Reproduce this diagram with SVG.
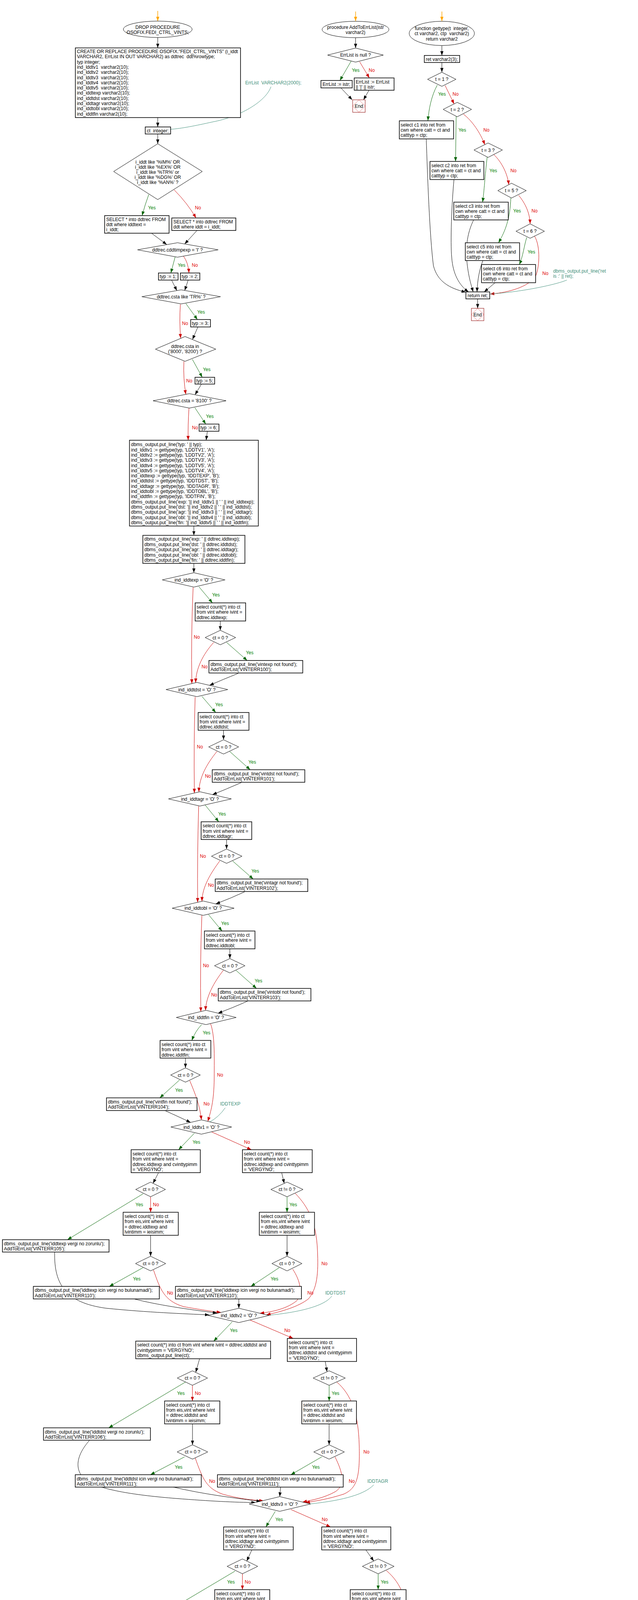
<svg xmlns="http://www.w3.org/2000/svg" width="1634" height="5422" viewBox="0 0 1634 5422">
<style>
.t{font-family:"Liberation Sans",Arial,sans-serif;font-size:12px;fill:#000}
.c{text-anchor:middle}
.ly{font-family:"Liberation Sans",Arial,sans-serif;font-size:12px;fill:#008000;text-anchor:middle}
.ln{font-family:"Liberation Sans",Arial,sans-serif;font-size:12px;fill:#e00000;text-anchor:middle}
.nt{font-family:"Liberation Sans",Arial,sans-serif;font-size:12px;fill:#3f8f7a}
.b{fill:#fff;stroke:#000;stroke-width:1.6}
.d{fill:#fff;stroke:#000;stroke-width:1}
.e{fill:none;stroke:#000;stroke-width:1;marker-end:url(#ak)}
.g{fill:none;stroke:#006400;stroke-width:1;marker-end:url(#ag)}
.r{fill:none;stroke:#cc0000;stroke-width:1;marker-end:url(#ar)}
.o{fill:none;stroke:#ffa500;stroke-width:1.5;marker-end:url(#ao)}
.nc{fill:none;stroke:#3f8f7a;stroke-width:1}
.er{fill:#fff;stroke:#a03030;stroke-width:1.2}
.ed{fill:none;stroke:#cc0000;stroke-width:0.8;stroke-dasharray:2,1}
</style>
<defs>
<marker id="ak" markerUnits="userSpaceOnUse" markerWidth="12" markerHeight="10" refX="11" refY="5" orient="auto"><path d="M0,1L11,5L0,9z" fill="#000"/></marker>
<marker id="ag" markerUnits="userSpaceOnUse" markerWidth="12" markerHeight="10" refX="11" refY="5" orient="auto"><path d="M0,1L11,5L0,9z" fill="#006400"/></marker>
<marker id="ar" markerUnits="userSpaceOnUse" markerWidth="12" markerHeight="10" refX="11" refY="5" orient="auto"><path d="M0,1L11,5L0,9z" fill="#cc0000"/></marker>
<marker id="ao" markerUnits="userSpaceOnUse" markerWidth="12" markerHeight="10" refX="11" refY="5" orient="auto"><path d="M0,1L11,5L0,9z" fill="#ffa500"/></marker>
</defs>
<rect width="1634" height="5422" fill="#fff"/>

<g id="connectors">
<path class="o" d="M404,28L404,54"/>
<path class="e" d="M404,96L404,122.6"/>
<path class="e" d="M404,301L404,325"/>
<path class="nc" d="M694,222C680,262 610,300 545,312C500,322 465,329 437,331"/>
<path class="e" d="M404,343L404,368"/>
<path class="g" d="M381,498Q371,525 364,552"/>
<path class="r" d="M446,486Q480,520 502,558"/>
<path class="e" d="M388,597L427,626"/>
<path class="e" d="M504.5,590L473,624.6"/>
<path class="g" d="M448.6,657.6L437.6,698.8"/>
<path class="r" d="M470,656Q482,672 484,698.8"/>
<path class="e" d="M439.4,717L453,744"/>
<path class="e" d="M482,717L473,743.6"/>
<path class="g" d="M476,777L505.6,818"/>
<path class="r" d="M462,779Q459,822 462.7,866"/>
<path class="e" d="M506.8,837L493,869"/>
<path class="g" d="M492.7,920L518,965.8"/>
<path class="r" d="M471,925Q469,970 476,1009.6"/>
<path class="e" d="M516,983.3L499.5,1010.6"/>
<path class="g" d="M499,1043.6L527,1085.6"/>
<path class="r" d="M484,1044.7Q481,1090 482,1127"/>
<path class="e" d="M531,1104L528,1127"/>
<path class="e" d="M496.5,1346.6L496.5,1370.5"/>
<path class="e" d="M496.5,1442.3L496.5,1466.2"/>
<text class="ly" x="389" y="536">Yes</text><text class="ln" x="507" y="536">No</text>
<text class="ly" x="465" y="682.6">Yes</text><text class="ln" x="499" y="682.6">No</text>
<text class="ly" x="515" y="802.8">Yes</text><text class="ln" x="474" y="831.6">No</text>
<text class="ly" x="529.5" y="949.5">Yes</text><text class="ln" x="484.7" y="978.7">No</text>
<text class="ly" x="537.4" y="1069.7">Yes</text><text class="ln" x="499.5" y="1099">No</text>

<path class="g" d="M509.4,1502L544.2,1543.4"/>
<path class="r" d="M494.6,1503.7Q489,1630 491.4,1750"/>
<path class="e" d="M564.2,1589.7L564.2,1613.6"/>
<path class="g" d="M580.3,1644.5L633,1690.8"/>
<path class="r" d="M547.4,1644.5C520,1675 502,1710 501,1748"/>
<path class="e" d="M610.5,1723.6Q570,1740 536.5,1754.4"/>
<text class="ly" x="553" y="1527.3">Yes</text><text class="ln" x="504" y="1635.4">No</text>
<text class="ly" x="639.5" y="1674.7">Yes</text><text class="ln" x="524" y="1710.6">No</text>
<path class="g" d="M517,1782.6L552.6,1824"/>
<path class="r" d="M499.8,1784Q496,1900 497.8,2030.2"/>
<path class="e" d="M572.5,1869.5L572.5,1893.8"/>
<path class="g" d="M588,1923.5L640.8,1970.5"/>
<path class="r" d="M555.8,1923.5C530,1955 510,1990 509.4,2027.5"/>
<path class="e" d="M618.3,2003.3Q580,2020 544.2,2034.3"/>
<text class="ly" x="561" y="1807.9">Yes</text><text class="ln" x="512" y="1915.9">No</text>
<text class="ly" x="646" y="1954.5">Yes</text><text class="ln" x="532.6" y="1990.7">No</text>
<path class="g" d="M525.5,2061L560.3,2103.7"/>
<path class="r" d="M508.8,2063.5Q505,2190 506.2,2310"/>
<path class="e" d="M580.3,2149.2L580.3,2173.5"/>
<path class="g" d="M595.7,2204L648.5,2250.3"/>
<path class="r" d="M562.9,2204C540,2235 518,2270 517.2,2307.4"/>
<path class="e" d="M626.6,2283Q590,2300 552.6,2314"/>
<text class="ly" x="568.7" y="2087.6">Yes</text><text class="ln" x="519.7" y="2195.6">No</text>
<text class="ly" x="653.7" y="2234">Yes</text><text class="ln" x="540.3" y="2270">No</text>
<path class="g" d="M534,2341.4L568.7,2383.4"/>
<path class="r" d="M517,2343.3Q512,2470 514.4,2589.7"/>
<path class="e" d="M588.7,2429L588.7,2454"/>
<path class="g" d="M604.4,2484L657,2530.4"/>
<path class="r" d="M572,2484C548,2515 528,2550 526.3,2586.7"/>
<path class="e" d="M634,2563Q596,2580 558.4,2593.9"/>
<text class="ly" x="576.4" y="2367.7">Yes</text><text class="ln" x="527.6" y="2475.8">No</text>
<text class="ly" x="662" y="2515">Yes</text><text class="ln" x="548.6" y="2550.6">No</text>
<path class="g" d="M516.4,2623Q500,2640 491.4,2663.5"/>
<path class="r" d="M539.4,2621C550,2650 549,2700 548.6,2760C548,2820 540,2845 532.2,2870.8"/>
<path class="e" d="M475,2708.7L475,2733.8"/>
<path class="g" d="M460,2764.6L409.3,2810.5"/>
<path class="r" d="M486,2766.6C500,2800 512,2830 515.8,2866.9"/>
<path class="e" d="M423.8,2843.7Q460,2860 488.2,2873.4"/>
<path class="nc" d="M576.8,2836Q560,2860 537.4,2872"/>
<text class="ly" x="529" y="2647.9">Yes</text><text class="ln" x="563.7" y="2756">No</text>
<text class="ly" x="458.6" y="2794.9">Yes</text><text class="ln" x="529" y="2830.4">No</text>
<path class="g" d="M498,2900.8L457.3,2943.3"/>
<path class="r" d="M542,2897.7L643.8,2943.3"/>
<path class="e" d="M406,3002L392,3029.3"/>
<path class="g" d="M366.6,3056L172.8,3173.6"/>
<path class="r" d="M385.7,3063.7L385.7,3103.4"/>
<path class="e" d="M385.7,3162.4L385.7,3216"/>
<path class="g" d="M366.6,3245L280,3293.2"/>
<path class="r" d="M393,3250.8C410,3300 420,3330 470,3345C510,3352 540,3357 566,3359.8"/>
<path class="e" d="M140,3205.3C138,3290 170,3335 271,3349C380,3360 470,3363 536,3366.2"/>
<path class="e" d="M343.6,3325.3C400,3340 480,3352 556,3361.3"/>
<path class="e" d="M721.4,3002L728,3029.5"/>
<path class="g" d="M735.2,3063.7L735.2,3103.4"/>
<path class="r" d="M756,3054.8C790,3090 810,3130 813,3200C816,3260 812,3300 790,3325C765,3345 720,3358 682,3366"/>
<path class="e" d="M735.2,3162.4L735.2,3216"/>
<path class="g" d="M715.4,3245L642.5,3293.2"/>
<path class="r" d="M749.6,3248.9C770,3280 775,3310 760,3330C735,3350 700,3358 665.5,3362"/>
<path class="e" d="M611.7,3325.3L611.7,3349.2"/>
<path class="nc" d="M849.5,3318.3C830,3345 760,3360 689,3367"/>
<text class="ly" x="503" y="2927.6">Yes</text><text class="ln" x="632.7" y="2927.6">No</text>
<text class="ly" x="356.8" y="3087.7">Yes</text><text class="ln" x="399.5" y="3087.7">No</text>
<text class="ly" x="350.2" y="3278">Yes</text><text class="ln" x="435.6" y="3313.8">No</text>
<text class="ly" x="751" y="3087.7">Yes</text><text class="ln" x="831" y="3238.6">No</text>
<text class="ly" x="703" y="3278">Yes</text><text class="ln" x="795" y="3313.8">No</text>
<path class="g" d="M594.6,3384L547.3,3433.3"/>
<path class="r" d="M640.6,3379.3L751,3426.4"/>
<path class="e" d="M511.2,3478.4L501.3,3513"/>
<path class="g" d="M475,3538L278.4,3655.3"/>
<path class="r" d="M492.8,3546.4L492.8,3586.5"/>
<path class="e" d="M493,3645.2L493,3698.7"/>
<path class="g" d="M472.6,3729.6L385.3,3775.3"/>
<path class="r" d="M499,3729.6C520,3790 530,3810 570,3825C610,3836 640,3840 675,3842"/>
<path class="e" d="M229.5,3687C200,3720 185,3760 220,3790C260,3815 350,3828 450,3836C540,3843 600,3846 655,3846.5"/>
<path class="e" d="M444,3807C520,3825 600,3835 668,3843.5"/>
<path class="e" d="M833,3485.4L837.6,3511.7"/>
<path class="g" d="M843,3546.4L843,3586.5"/>
<path class="r" d="M862.6,3538C900,3570 918,3620 920,3700C922,3780 915,3810 880,3825C840,3838 810,3842 782.7,3847"/>
<path class="e" d="M842.9,3645.2L842.9,3698.7"/>
<path class="g" d="M824,3729.6L745,3775.3"/>
<path class="r" d="M858,3729.6C878,3770 885,3800 860,3818C830,3835 800,3840 775,3845.3"/>
<path class="e" d="M718.7,3807L716.4,3831.4"/>
<path class="nc" d="M957.2,3801.2C930,3830 860,3843 795,3850"/>
<text class="ly" x="598.5" y="3410.3">Yes</text><text class="ln" x="735.8" y="3410.3">No</text>
<text class="ly" x="463.2" y="3571.2">Yes</text><text class="ln" x="506.6" y="3571.2">No</text>
<text class="ly" x="457.6" y="3759.6">Yes</text><text class="ln" x="543.3" y="3795.6">No</text>
<text class="ly" x="859.3" y="3571.2">Yes</text><text class="ln" x="938.4" y="3721.2">No</text>
<text class="ly" x="809" y="3759.6">Yes</text><text class="ln" x="900.8" y="3795.6">No</text>
<path class="g" d="M705,3869L681,3908.9"/>
<path class="r" d="M745,3864.3L846.6,3908.9"/>
<path class="e" d="M645,3967.7L632,3996.3"/>
<path class="g" d="M602,4022L406.4,4138"/>
<path class="r" d="M620.9,4028.9L620.9,4069.5"/>
<path class="e" d="M620.9,4127.2L620.9,4180.6"/>
<path class="g" d="M602,4210.8L514,4258"/>
<path class="r" d="M628.4,4214.7C645,4260 660,4290 700,4310C730,4322 760,4328 788.7,4333"/>
<path class="e" d="M357.5,4170.2C330,4200 318,4235 332,4262C355,4300 430,4315 530,4325C630,4335 700,4341 752,4344.4"/>
<path class="e" d="M564.4,4290.2C650,4310 720,4322 782.7,4334.8"/>
<path class="e" d="M937,3967.7L957.2,3996.3"/>
<path class="g" d="M968.5,4028.9L968.5,4069.5"/>
<path class="r" d="M989.6,4020.7C1030,4055 1045,4100 1048,4180C1050,4260 1045,4290 1010,4310C975,4325 950,4334 925.6,4341"/>
<path class="e" d="M968.5,4127.2L968.5,4180.6"/>
<path class="g" d="M949.7,4210.8L873,4258"/>
<path class="r" d="M985.8,4212.7C1005,4250 1010,4285 980,4305C955,4322 930,4330 906.8,4335"/>
<path class="e" d="M846.6,4290.2L845.1,4315.3"/>
<path class="nc" d="M1083.7,4284.4C1060,4315 990,4335 933.2,4343.5"/>
<text class="ly" x="715" y="3893.5">Yes</text><text class="ln" x="831.6" y="3893.5">No</text>
<text class="ly" x="591.5" y="4053.8">Yes</text><text class="ln" x="634.4" y="4053.8">No</text>
<text class="ly" x="584.7" y="4242.7">Yes</text><text class="ln" x="669.8" y="4278.7">No</text>
<text class="ly" x="985" y="4053.8">Yes</text><text class="ln" x="1066.4" y="4203.2">No</text>
<text class="ly" x="937" y="4242.7">Yes</text><text class="ln" x="1028.7" y="4278.7">No</text>
<path class="g" d="M830,4374.6L807.5,4418"/>
<path class="r" d="M884.3,4367.6L982,4418"/>
<path class="e" d="M771.4,4477L760,4506.5"/>
<path class="g" d="M730,4532L534.3,4647"/>
<path class="r" d="M748.8,4538L748.8,4578.6"/>
<path class="e" d="M748.8,4637.4L748.8,4690.8"/>
<path class="g" d="M728.5,4721L643.4,4767"/>
<path class="r" d="M754.8,4722.5C770,4770 790,4800 840,4818C880,4830 905,4833 925.6,4835"/>
<path class="e" d="M485.4,4679.2C455,4715 440,4760 470,4788C500,4810 560,4816 650,4824C760,4834 840,4839 897,4841.6"/>
<path class="e" d="M700,4799.2C780,4815 860,4828 920,4836.4"/>
<path class="e" d="M1065,4477L1083.7,4506.9"/>
<path class="g" d="M1096.5,4538L1096.5,4578.6"/>
<path class="r" d="M1117.6,4530C1160,4560 1178,4610 1181,4700C1184,4780 1170,4805 1120,4820C1090,4830 1065,4836 1040,4839.6"/>
<path class="e" d="M1096.5,4637.4L1096.5,4690.8"/>
<path class="g" d="M1080,4721L1001,4767"/>
<path class="r" d="M1110,4722.5C1132,4760 1136,4790 1110,4810C1080,4828 1050,4832 1025,4836"/>
<path class="e" d="M974.6,4799.2L974.6,4823.7"/>
<path class="nc" d="M1211,4792C1180,4820 1100,4836 1048,4841.5"/>
<text class="ly" x="837.6" y="4402.6">Yes</text><text class="ln" x="974.6" y="4402.6">No</text>
<text class="ly" x="717.2" y="4562.4">Yes</text><text class="ln" x="762.3" y="4562.4">No</text>
<text class="ly" x="711.2" y="4751.7">Yes</text><text class="ln" x="797.7" y="4787.7">No</text>
<text class="ly" x="1112.3" y="4562.4">Yes</text><text class="ln" x="1197" y="4713">No</text>
<text class="ly" x="1065" y="4751.7">Yes</text><text class="ln" x="1155.2" y="4787.7">No</text>
<path class="g" d="M961.8,4860.6L939.2,4901.5"/>
<path class="r" d="M997,4856L1070,4901.5"/>
<path class="e" d="M912.9,4959L908.3,4984.7"/>
<path class="g" d="M888,5016.2Q820,5070 772.9,5130.2"/>
<path class="r" d="M905.3,5021L905.3,5061"/>
<path class="e" d="M905.3,5119.3L905.3,5173.8"/>
<path class="g" d="M916.6,5205L949.7,5250.8"/>
<path class="r" d="M882,5198C830,5220 795,5250 800,5280C810,5310 900,5320 1039.3,5323"/>
<path class="e" d="M756.3,5162C752,5220 750,5275 795,5300C850,5325 950,5327 1039.3,5328"/>
<path class="e" d="M1008.4,5282.7L1068.6,5306.8"/>
<path class="e" d="M1126.6,4959L1128.8,4983.5"/>
<path class="r" d="M1131,5021L1131,5306.8"/>
<path class="g" d="M1144,5016Q1160,5035 1170,5061"/>
<path class="e" d="M1210.5,5119.3L1210.5,5173.8"/>
<path class="g" d="M1225,5205L1258,5250.8"/>
<path class="r" d="M1193,5202C1165,5225 1150,5260 1137,5306.8"/>
<path class="e" d="M1290,5282.7L1205,5306.8"/>
<path class="e" d="M1131,5350.8L1131,5386"/>
<path class="nc" d="M1500,5220C1460,5300 1300,5325 1222.7,5330"/>
<text class="ly" x="970.8" y="4886">Yes</text><text class="ln" x="1063.4" y="4886">No</text>
<text class="ly" x="884.3" y="5045.5">Yes</text><text class="ln" x="919.6" y="5045.5">No</text>
<text class="ly" x="954.2" y="5235">Yes</text><text class="ln" x="790" y="5270.4">No</text>
<text class="ly" x="1178" y="5045.5">Yes</text><text class="ln" x="1144" y="5195.3">No</text>
<text class="ly" x="1262" y="5235">Yes</text><text class="ln" x="1162.7" y="5270.4">No</text>

<path class="o" d="M910.7,29.5L910.7,54"/>
<path class="e" d="M910.7,96L910.7,123"/>
<path class="g" d="M899.6,156L870.5,206"/>
<path class="r" d="M921,158L946,199.5"/>
<path class="e" d="M873,225L902,255.5"/>
<path class="e" d="M945,231L931,255.5"/>
<text class="ly" x="911" y="184">Yes</text><text class="ln" x="952" y="184">No</text>

<path class="o" d="M1131.7,29.5L1131.7,54"/>
<path class="e" d="M1131.7,117L1131.7,142"/>
<path class="e" d="M1131.7,160L1131.7,185"/>
<path class="g" d="M1119.8,218C1105,245 1098,280 1096,309"/>
<path class="r" d="M1140,219L1163,266"/>
<path class="g" d="M1168.3,298L1166.7,413.3"/>
<path class="r" d="M1186.7,292C1210,310 1230,340 1241.7,370.2"/>
<path class="g" d="M1247.7,402C1242,450 1240,490 1236,517.5"/>
<path class="r" d="M1265,396C1285,415 1300,445 1303,472.8"/>
<path class="g" d="M1308.3,507C1306,560 1295,590 1276.7,621.5"/>
<path class="r" d="M1328.3,500C1345,520 1357,545 1357.7,573"/>
<path class="g" d="M1349,608C1342,630 1340,655 1330,677.2"/>
<path class="r" d="M1369,604.5C1385,630 1382,690 1370,710C1345,740 1290,750 1255,752.7"/>
<path class="e" d="M1091.7,355.6C1095,450 1100,600 1110,680C1120,720 1150,738 1193,748"/>
<path class="e" d="M1162.7,459.6C1157,520 1153,620 1157,660C1160,700 1175,730 1200,747.3"/>
<path class="e" d="M1213,563C1200,590 1193,620 1195,660C1198,700 1205,725 1212,747.3"/>
<path class="e" d="M1236.7,667C1228,690 1223,715 1221.7,747.3"/>
<path class="e" d="M1268,723.7L1240,747.3"/>
<path class="nc" d="M1451.7,717C1420,730 1330,748 1255,752.7"/>
<path class="e" d="M1223.3,765.2L1223.3,789.3"/>
<text class="ly" x="1132" y="245">Yes</text><text class="ln" x="1166.7" y="245">No</text>
<text class="ly" x="1184" y="336.5">Yes</text><text class="ln" x="1245.7" y="336.5">No</text>
<text class="ly" x="1263.3" y="440.5">Yes</text><text class="ln" x="1315" y="440.5">No</text>
<text class="ly" x="1324.3" y="544">Yes</text><text class="ln" x="1369" y="544">No</text>
<text class="ly" x="1361" y="648.6">Yes</text><text class="ln" x="1396.7" y="704.4">No</text>
</g>

<g id="drop"><ellipse class="d" cx="404" cy="75" rx="88" ry="21"/><text class="t c" x="404" y="74">DROP PROCEDURE</text><text class="t c" x="404" y="87">OSOFIX.FEDI_CTRL_VINTS;</text></g>
<g id="create"><rect class="b" x="193" y="122.6" width="423" height="178.4"/>
<text class="t" x="197" y="136">CREATE OR REPLACE PROCEDURE OSOFIX."FEDI_CTRL_VINTS" (i_iddt</text>
<text class="t" x="197" y="149.3" xml:space="preserve">VARCHAR2, ErrList IN OUT VARCHAR2) as ddtrec  ddt%rowtype;</text>
<text class="t" x="197" y="162.6">typ integer;</text>
<text class="t" x="197" y="175.9" xml:space="preserve">ind_lddtv1  varchar2(10);</text>
<text class="t" x="197" y="189.2" xml:space="preserve">ind_lddtv2  varchar2(10);</text>
<text class="t" x="197" y="202.5" xml:space="preserve">ind_lddtv3  varchar2(10);</text>
<text class="t" x="197" y="215.8" xml:space="preserve">ind_lddtv4  varchar2(10);</text>
<text class="t" x="197" y="229.1" xml:space="preserve">ind_lddtv5  varchar2(10);</text>
<text class="t" x="197" y="242.4">ind_iddtexp varchar2(10);</text>
<text class="t" x="197" y="255.7">ind_iddtdst varchar2(10);</text>
<text class="t" x="197" y="269">ind_iddtagr varchar2(10);</text>
<text class="t" x="197" y="282.3">ind_iddtobl varchar2(10);</text>
<text class="t" x="197" y="295.6">ind_iddtfin varchar2(10);</text></g>
<g id="note_errlist"><text class="nt" x="628" y="216" xml:space="preserve">ErrList  VARCHAR2(2000);</text></g>
<g id="ct_decl"><rect class="b" x="372" y="325" width="65" height="18"/><text class="t" x="376" y="338.8" xml:space="preserve">ct  integer;</text></g>
<g id="if_iddt"><polygon class="d" points="404,368 518,439 404,511 291,439"/>
<text class="t c" x="404" y="418.5">i_iddt like '%IM%' OR</text><text class="t c" x="404" y="431.5">i_iddt like '%EX%' OR</text><text class="t c" x="404" y="444.5">i_iddt like '%TR%' or</text><text class="t c" x="404" y="458">i_iddt like '%DG%' OR</text><text class="t c" x="404" y="471">i_iddt like '%AN%' ?</text></g>
<g id="sel1"><rect class="b" x="268" y="552" width="165" height="45"/><text class="t" x="272" y="566">SELECT * into ddtrec FROM</text><text class="t" x="272" y="579">ddt where iddtext =</text><text class="t" x="272" y="592">i_iddt;</text></g>
<g id="sel2"><rect class="b" x="440" y="558" width="164" height="32"/><text class="t" x="444" y="572">SELECT * into ddtrec FROM</text><text class="t" x="444" y="585">ddt where iddt = i_iddt;</text></g>
<g id="if_imp"><polygon class="d" points="454.7,621.4 559,639.5 454.7,658.4 352,639.5"/><text class="t c" x="454.7" y="644">ddtrec.cddtimpexp = 'I' ?</text></g>
<g id="typ1"><rect class="b" x="405.8" y="698.8" width="50.2" height="18.2"/><text class="t" x="409" y="712">typ := 1;</text></g>
<g id="typ2"><rect class="b" x="462" y="698.8" width="49.7" height="18.2"/><text class="t" x="465" y="712">typ := 2;</text></g>
<g id="if_tr"><polygon class="d" points="464,742 565,759.5 464,778 363,759.5"/><text class="t c" x="464" y="764">ddtrec.csta like 'TR%' ?</text></g>
<g id="typ3"><rect class="b" x="488.4" y="818" width="50.6" height="19"/><text class="t" x="491.5" y="832">typ := 3;</text></g>
<g id="if_in"><polygon class="d" points="474,861.5 552.7,893.8 474,925 398,893.8"/><text class="t c" x="474" y="891">ddtrec.csta in</text><text class="t c" x="474" y="904">('8000', '8200') ?</text></g>
<g id="typ5"><rect class="b" x="499.5" y="965.8" width="50.2" height="17.5"/><text class="t" x="502.5" y="979">typ := 5;</text></g>
<g id="if_8100"><polygon class="d" points="485,1007.8 579,1026 485,1044.7 392,1026"/><text class="t c" x="485" y="1030.3">ddtrec.csta = '8100' ?</text></g>
<g id="typ6"><rect class="b" x="510" y="1085.6" width="50.7" height="18.4"/><text class="t" x="513" y="1099">typ := 6;</text></g>
<g id="calc"><rect class="b" x="331.6" y="1127" width="330" height="219.6"/>
<text class="t" x="335.5" y="1142.3">dbms_output.put_line('typ: ' || typ);</text>
<text class="t" x="335.5" y="1155.6">ind_lddtv1 := gettype(typ, 'LDDTV1', 'A');</text>
<text class="t" x="335.5" y="1168.9">ind_lddtv2 := gettype(typ, 'LDDTV2', 'A');</text>
<text class="t" x="335.5" y="1182.2">ind_lddtv3 := gettype(typ, 'LDDTV3', 'A');</text>
<text class="t" x="335.5" y="1195.5">ind_lddtv4 := gettype(typ, 'LDDTV5', 'A');</text>
<text class="t" x="335.5" y="1208.8">ind_lddtv5 := gettype(typ, 'LDDTV4', 'A');</text>
<text class="t" x="335.5" y="1222.1">ind_iddtexp := gettype(typ, 'IDDTEXP', 'B');</text>
<text class="t" x="335.5" y="1235.4">ind_iddtdst := gettype(typ, 'IDDTDST', 'B');</text>
<text class="t" x="335.5" y="1248.7">ind_iddtagr := gettype(typ, 'IDDTAGR', 'B');</text>
<text class="t" x="335.5" y="1262">ind_iddtobl := gettype(typ, 'IDDTOBL', 'B');</text>
<text class="t" x="335.5" y="1275.3">ind_iddtfin := gettype(typ, 'IDDTFIN', 'B');</text>
<text class="t" x="335.5" y="1288.6">dbms_output.put_line('exp: '|| ind_lddtv1 || ' ' || ind_iddtexp);</text>
<text class="t" x="335.5" y="1301.9">dbms_output.put_line('dst: '|| ind_lddtv2 || ' ' || ind_iddtdst);</text>
<text class="t" x="335.5" y="1315.2">dbms_output.put_line('agr: '|| ind_lddtv3 || ' ' || ind_iddtagr);</text>
<text class="t" x="335.5" y="1328.5">dbms_output.put_line('obl: '|| ind_lddtv4 || ' ' || ind_iddtobl);</text>
<text class="t" x="335.5" y="1341.8">dbms_output.put_line('fin: '|| ind_lddtv5 || ' ' || ind_iddtfin);</text></g>
<g id="print_rec"><rect class="b" x="365.8" y="1370.5" width="261.5" height="71.8"/>
<text class="t" x="369.5" y="1384">dbms_output.put_line('exp: ' || ddtrec.iddtexp);</text>
<text class="t" x="369.5" y="1397.7">dbms_output.put_line('dst: ' || ddtrec.iddtdst);</text>
<text class="t" x="369.5" y="1411.2">dbms_output.put_line('agr: ' || ddtrec.iddtagr);</text>
<text class="t" x="369.5" y="1424.5">dbms_output.put_line('obl: ' || ddtrec.iddtobl);</text>
<text class="t" x="369.5" y="1438">dbms_output.put_line('fin: ' || ddtrec.iddtfin);</text></g>

<g id="d_exp"><polygon class="d" points="496.5,1466.2 576.4,1484.5 496.5,1502.9 415.4,1484.5"/><text class="t c" x="496.5" y="1489">ind_iddtexp = 'O' ?</text></g>
<g id="s_exp"><rect class="b" x="499.8" y="1543.4" width="129.4" height="46.3"/><text class="t" x="503.5" y="1558">select count(*) into ct</text><text class="t" x="503.5" y="1571.3">from vint where ivint =</text><text class="t" x="503.5" y="1584.6">ddtrec.iddtexp;</text></g>
<g id="c_exp"><polygon class="d" points="564.2,1613.6 603.5,1632.1 564.2,1650.7 525.5,1632.1"/><text class="t c" x="564.2" y="1636.5">ct = 0 ?</text></g>
<g id="p_exp"><rect class="b" x="535.2" y="1690.8" width="240.2" height="32"/><text class="t" x="539" y="1704.5">dbms_output.put_line('vintexp not found');</text><text class="t" x="539" y="1718.3">AddToErrList('VINTERR100');</text></g>
<g id="d_dst"><polygon class="d" points="504.3,1747 583.5,1765.3 504.3,1783.4 425,1765.3"/><text class="t c" x="504.3" y="1769.5">ind_iddtdst = 'O' ?</text></g>
<g id="s_dst"><rect class="b" x="507.5" y="1824" width="130.1" height="45.5"/><text class="t" x="511" y="1838.5">select count(*) into ct</text><text class="t" x="511" y="1851.8">from vint where ivint =</text><text class="t" x="511" y="1865.1">ddtrec.iddtdst;</text></g>
<g id="c_dst"><polygon class="d" points="572.5,1893.8 611.2,1912.1 572.5,1930.4 534.5,1912.1"/><text class="t c" x="572.5" y="1916.5">ct = 0 ?</text></g>
<g id="p_dst"><rect class="b" x="543.6" y="1970.5" width="237" height="32.1"/><text class="t" x="547.5" y="1984.5">dbms_output.put_line('vintdst not found');</text><text class="t" x="547.5" y="1998.3">AddToErrList('VINTERR101');</text></g>
<g id="d_agr"><polygon class="d" points="512,2026.9 592.5,2045.2 512,2063.5 431.5,2045.2"/><text class="t c" x="512" y="2049.5">ind_iddtagr = 'O' ?</text></g>
<g id="s_agr"><rect class="b" x="515.2" y="2103.7" width="129.5" height="45.5"/><text class="t" x="519" y="2118.2">select count(*) into ct</text><text class="t" x="519" y="2131.5">from vint where ivint =</text><text class="t" x="519" y="2144.8">ddtrec.iddtagr;</text></g>
<g id="c_agr"><polygon class="d" points="580.3,2173.5 619.6,2191.9 580.3,2210.2 541.6,2191.9"/><text class="t c" x="580.3" y="2196.3">ct = 0 ?</text></g>
<g id="p_agr"><rect class="b" x="551.3" y="2250.3" width="237" height="32"/><text class="t" x="555" y="2264.3">dbms_output.put_line('vintagr not found');</text><text class="t" x="555" y="2278.1">AddToErrList('VINTERR102');</text></g>
<g id="d_obl"><polygon class="d" points="520.4,2306.6 599.6,2325 520.4,2343.3 441,2325"/><text class="t c" x="520.4" y="2329.3">ind_iddtobl = 'O' ?</text></g>
<g id="s_obl"><rect class="b" x="523.6" y="2383.4" width="129.4" height="45.6"/><text class="t" x="527.3" y="2397.9">select count(*) into ct</text><text class="t" x="527.3" y="2411.2">from vint where ivint =</text><text class="t" x="527.3" y="2424.5">ddtrec.iddtobl;</text></g>
<g id="c_obl"><polygon class="d" points="588.7,2454 627.4,2472.3 588.7,2490.7 549.3,2472.3"/><text class="t c" x="588.7" y="2476.7">ct = 0 ?</text></g>
<g id="p_obl"><rect class="b" x="559" y="2530.4" width="237.3" height="32"/><text class="t" x="563" y="2544.4">dbms_output.put_line('vintobl not found');</text><text class="t" x="563" y="2558.2">AddToErrList('VINTERR103');</text></g>
<g id="d_fin"><polygon class="d" points="527.6,2586.4 605,2604.7 527.6,2623 451.4,2604.7"/><text class="t c" x="527.6" y="2609">ind_iddtfin = 'O' ?</text></g>
<g id="s_fin"><rect class="b" x="410" y="2663.5" width="130" height="45.2"/><text class="t" x="413.7" y="2678">select count(*) into ct</text><text class="t" x="413.7" y="2691.3">from vint where ivint =</text><text class="t" x="413.7" y="2704.6">ddtrec.iddtfin;</text></g>
<g id="c_fin"><polygon class="d" points="475,2733.8 513,2752.1 475,2770.4 437,2752.1"/><text class="t c" x="475" y="2756.5">ct = 0 ?</text></g>
<g id="p_fin"><rect class="b" x="272.7" y="2810.5" width="231.9" height="32.5"/><text class="t" x="276.5" y="2824.5">dbms_output.put_line('vintfin not found');</text><text class="t" x="276.5" y="2838.3">AddToErrList('VINTERR104');</text></g>
<g id="note_exp"><text class="nt" x="563.7" y="2830.4">IDDTEXP</text></g>

<g id="d_v1"><polygon class="d" points="515.8,2866.9 593.3,2885.2 515.8,2903.5 437.6,2885.2"/><text class="t c" x="515.8" y="2889.5">ind_lddtv1 = 'O' ?</text></g>
<g id="sy_v1"><rect class="b" x="335.8" y="2943.3" width="177.2" height="58.7"/><text class="t" x="339.5" y="2958">select count(*) into ct</text><text class="t" x="339.5" y="2971.3">from vint where ivint =</text><text class="t" x="339.5" y="2984.6">ddtrec.iddtexp and cvinttypimm</text><text class="t" x="339.5" y="2997.9">= 'VERGÝNO';</text></g>
<g id="sn_v1"><rect class="b" x="620.9" y="2943.3" width="178.7" height="58.7"/><text class="t" x="624.6" y="2958">select count(*) into ct</text><text class="t" x="624.6" y="2971.3">from vint where ivint =</text><text class="t" x="624.6" y="2984.6">ddtrec.iddtexp and cvinttypimm</text><text class="t" x="624.6" y="2997.9">= 'VERGÝNO';</text></g>
<g id="c1_v1"><polygon class="d" points="385.7,3026.2 423.8,3045 385.7,3063.7 347.6,3045"/><text class="t c" x="385.7" y="3049.3">ct = 0 ?</text></g>
<g id="z_v1"><rect class="b" x="6.3" y="3173.6" width="273" height="31.7"/><text class="t" x="10" y="3187.5">dbms_output.put_line('iddtexp vergi no zorunlu');</text><text class="t" x="10" y="3201">AddToErrList('VINTERR105');</text></g>
<g id="e_v1"><rect class="b" x="315.4" y="3103.4" width="141.2" height="59"/><text class="t" x="319" y="3118">select count(*) into ct</text><text class="t" x="319" y="3131.3">from eis,vint where ivint</text><text class="t" x="319" y="3144.6">= ddtrec.iddtexp and</text><text class="t" x="319" y="3157.9">lvintimm = ieisimm;</text></g>
<g id="c2_v1"><polygon class="d" points="385.7,3216 424.4,3234.7 385.7,3253.5 347,3234.7"/><text class="t c" x="385.7" y="3239">ct = 0 ?</text></g>
<g id="b_v1"><rect class="b" x="85.4" y="3293.2" width="322.6" height="32.1"/><text class="t" x="89" y="3307">dbms_output.put_line('iddtexp icin vergi no bulunamadi');</text><text class="t" x="89" y="3320.8">AddToErrList('VINTERR110');</text></g>
<g id="r1_v1"><polygon class="d" points="735.2,3026.2 776,3045 735.2,3063.7 693.8,3045"/><text class="t c" x="735.2" y="3049.3">ct != 0 ?</text></g>
<g id="re_v1"><rect class="b" x="664.2" y="3103.4" width="141.3" height="59"/><text class="t" x="668" y="3118">select count(*) into ct</text><text class="t" x="668" y="3131.3">from eis,vint where ivint</text><text class="t" x="668" y="3144.6">= ddtrec.iddtexp and</text><text class="t" x="668" y="3157.9">lvintimm = ieisimm;</text></g>
<g id="r2_v1"><polygon class="d" points="735.2,3216 773.3,3234.7 735.2,3253.5 696.4,3234.7"/><text class="t c" x="735.2" y="3239">ct = 0 ?</text></g>
<g id="rb_v1"><rect class="b" x="449.4" y="3293.2" width="322.6" height="32.1"/><text class="t" x="453" y="3307">dbms_output.put_line('iddtexp icin vergi no bulunamadi');</text><text class="t" x="453" y="3320.8">AddToErrList('VINTERR110');</text></g>
<g id="note_dst"><text class="nt" x="833" y="3313.8">IDDTDST</text></g>

<g id="d_v2"><polygon class="d" points="611.7,3349.2 689.2,3367.5 611.7,3385.8 532.8,3367.5"/><text class="t c" x="611.7" y="3371.8">ind_lddtv2 = 'O' ?</text></g>
<g id="sy_v2"><rect class="b" x="347.6" y="3433.3" width="345.4" height="45.1"/><text class="t" x="351.3" y="3447.3">select count(*) into ct from vint where ivint = ddtrec.iddtdst and</text><text class="t" x="351.3" y="3460.6">cvinttypimm = 'VERGÝNO';</text><text class="t" x="351.3" y="3474">dbms_output.put_line(ct);</text></g>
<g id="sn_v2"><rect class="b" x="735.8" y="3426.4" width="177.4" height="59"/><text class="t" x="739.5" y="3440.6">select count(*) into ct</text><text class="t" x="739.5" y="3453.9">from vint where ivint =</text><text class="t" x="739.5" y="3467.2">ddtrec.iddtdst and cvinttypimm</text><text class="t" x="739.5" y="3480.5">= 'VERGÝNO';</text></g>
<g id="c1_v2"><polygon class="d" points="492.8,3509.3 531.5,3527.8 492.8,3546.4 454,3527.8"/><text class="t c" x="492.8" y="3532.2">ct = 0 ?</text></g>
<g id="e_v2"><rect class="b" x="421.6" y="3586.5" width="141.4" height="58.7"/><text class="t" x="425.3" y="3600.7">select count(*) into ct</text><text class="t" x="425.3" y="3614">from eis,vint where ivint</text><text class="t" x="425.3" y="3627.3">= ddtrec.iddtdst and</text><text class="t" x="425.3" y="3640.6">lvintimm = ieisimm;</text></g>
<g id="z_v2"><rect class="b" x="111.4" y="3655.3" width="273.9" height="31.7"/><text class="t" x="115" y="3669.5">dbms_output.put_line('iddtdst vergi no zorunlu');</text><text class="t" x="115" y="3683">AddToErrList('VINTERR106');</text></g>
<g id="c2_v2"><polygon class="d" points="493,3698.7 532,3717 493,3735.4 453.8,3717"/><text class="t c" x="493" y="3721.3">ct = 0 ?</text></g>
<g id="b_v2"><rect class="b" x="192.7" y="3775.3" width="322.8" height="31.7"/><text class="t" x="196.4" y="3789.5">dbms_output.put_line('iddtdst icin vergi no bulunamadi');</text><text class="t" x="196.4" y="3803">AddToErrList('VINTERR111');</text></g>
<g id="r1_v2"><polygon class="d" points="843,3509.3 884.3,3527.8 843,3546.4 802,3527.8"/><text class="t c" x="843" y="3532.2">ct != 0 ?</text></g>
<g id="re_v2"><rect class="b" x="772.9" y="3586.5" width="140" height="58.7"/><text class="t" x="776.6" y="3600.7">select count(*) into ct</text><text class="t" x="776.6" y="3614">from eis,vint where ivint</text><text class="t" x="776.6" y="3627.3">= ddtrec.iddtdst and</text><text class="t" x="776.6" y="3640.6">lvintimm = ieisimm;</text></g>
<g id="r2_v2"><polygon class="d" points="842.9,3698.7 882,3717 842.9,3735.4 803.7,3717"/><text class="t c" x="842.9" y="3721.3">ct = 0 ?</text></g>
<g id="rb_v2"><rect class="b" x="556.9" y="3775.3" width="322.1" height="31.7"/><text class="t" x="560.6" y="3789.5">dbms_output.put_line('iddtdst icin vergi no bulunamadi');</text><text class="t" x="560.6" y="3803">AddToErrList('VINTERR111');</text></g>
<g id="note_agr"><text class="nt" x="940.7" y="3795.6">IDDTAGR</text></g>

<g id="d_v3"><polygon class="d" points="716.4,3831.4 795.4,3850.2 716.4,3869 638.2,3850.2"/><text class="t c" x="716.4" y="3854.5">ind_lddtv3 = 'O' ?</text></g>
<g id="sy_v3"><rect class="b" x="572.7" y="3908.9" width="178.3" height="58.8"/><text class="t" x="576.4" y="3923.4">select count(*) into ct</text><text class="t" x="576.4" y="3936.7">from vint where ivint =</text><text class="t" x="576.4" y="3950">ddtrec.iddtagr and cvinttypimm</text><text class="t" x="576.4" y="3963.3">= 'VERGÝNO';</text></g>
<g id="sn_v3"><rect class="b" x="824" y="3908.9" width="176.9" height="58.8"/><text class="t" x="827.7" y="3923.4">select count(*) into ct</text><text class="t" x="827.7" y="3936.7">from vint where ivint =</text><text class="t" x="827.7" y="3950">ddtrec.iddtagr and cvinttypimm</text><text class="t" x="827.7" y="3963.3">= 'VERGÝNO';</text></g>
<g id="c1_v3"><polygon class="d" points="620.9,3990.9 660,4009.9 620.9,4028.9 581.7,4009.9"/><text class="t c" x="620.9" y="4014.2">ct = 0 ?</text></g>
<g id="e_v3"><rect class="b" x="550" y="4069.5" width="140.8" height="57.7"/><text class="t" x="553.7" y="4083.8">select count(*) into ct</text><text class="t" x="553.7" y="4097.1">from eis,vint where ivint</text><text class="t" x="553.7" y="4110.4">= ddtrec.iddtagr and</text><text class="t" x="553.7" y="4123.7">lvintimm = ieisimm;</text></g>
<g id="z_v3"><rect class="b" x="240" y="4138" width="273.2" height="32"/><text class="t" x="243.7" y="4152">dbms_output.put_line('iddtagr vergi no zorunlu');</text><text class="t" x="243.7" y="4165.5">AddToErrList('VINTERR107');</text></g>
<g id="c2_v3"><polygon class="d" points="620.9,4180.6 660,4199.5 620.9,4218.5 581.7,4199.5"/><text class="t c" x="620.9" y="4203.8">ct = 0 ?</text></g>
<g id="b_v3"><rect class="b" x="320.6" y="4258" width="322.8" height="32.2"/><text class="t" x="324.3" y="4272">dbms_output.put_line('iddtagr icin vergi no bulunamadi');</text><text class="t" x="324.3" y="4285.5">AddToErrList('VINTERR112');</text></g>
<g id="r1_v3"><polygon class="d" points="968.5,3990.9 1009.2,4009.9 968.5,4028.9 928,4009.9"/><text class="t c" x="968.5" y="4014.2">ct != 0 ?</text></g>
<g id="re_v3"><rect class="b" x="897" y="4069.5" width="143" height="57.7"/><text class="t" x="900.7" y="4083.8">select count(*) into ct</text><text class="t" x="900.7" y="4097.1">from eis,vint where ivint</text><text class="t" x="900.7" y="4110.4">= ddtrec.iddtagr and</text><text class="t" x="900.7" y="4123.7">lvintimm = ieisimm;</text></g>
<g id="r2_v3"><polygon class="d" points="968.5,4180.6 1007.5,4199.5 968.5,4218.5 929.5,4199.5"/><text class="t c" x="968.5" y="4203.8">ct = 0 ?</text></g>
<g id="rb_v3"><rect class="b" x="684.8" y="4258" width="322.2" height="32.2"/><text class="t" x="688.5" y="4272">dbms_output.put_line('iddtagr icin vergi no bulunamadi');</text><text class="t" x="688.5" y="4285.5">AddToErrList('VINTERR112');</text></g>
<g id="note_obl"><text class="nt" x="1067" y="4278.7">IDDTOBL</text></g>

<g id="d_v4"><polygon class="d" points="845.1,4315.3 943,4346.6 845.1,4378 745,4346.6"/><text class="t c" x="845.1" y="4344">ind_lddtv4 = 'O' AND</text><text class="t c" x="845.1" y="4358.3">ddtrec.cddtsrc != '5' ?</text></g>
<g id="sy_v4"><rect class="b" x="700.6" y="4418" width="178.4" height="59"/><text class="t" x="704.3" y="4432.5">select count(*) into ct</text><text class="t" x="704.3" y="4445.8">from vint where ivint =</text><text class="t" x="704.3" y="4459.1">ddtrec.iddtobl and cvinttypimm</text><text class="t" x="704.3" y="4472.4">= 'VERGÝNO';</text></g>
<g id="sn_v4"><rect class="b" x="952" y="4418" width="177.6" height="59"/><text class="t" x="955.7" y="4432.5">select count(*) into ct</text><text class="t" x="955.7" y="4445.8">from vint where ivint =</text><text class="t" x="955.7" y="4459.1">ddtrec.iddtobl and cvinttypimm</text><text class="t" x="955.7" y="4472.4">= 'VERGÝNO';</text></g>
<g id="c1_v4"><polygon class="d" points="748.8,4501 787.2,4519.5 748.8,4538 709.7,4519.5"/><text class="t c" x="748.8" y="4523.8">ct = 0 ?</text></g>
<g id="e_v4"><rect class="b" x="678" y="4578.6" width="140.8" height="58.8"/><text class="t" x="681.7" y="4593">select count(*) into ct</text><text class="t" x="681.7" y="4606.3">from eis,vint where ivint</text><text class="t" x="681.7" y="4619.6">= ddtrec.iddtobl and</text><text class="t" x="681.7" y="4632.9">lvintimm = ieisimm;</text></g>
<g id="z_v4"><rect class="b" x="368" y="4647" width="273.2" height="32.2"/><text class="t" x="371.7" y="4661">dbms_output.put_line('iddtobl vergi no zorunlu');</text><text class="t" x="371.7" y="4674.5">AddToErrList('VINTERR108');</text></g>
<g id="c2_v4"><polygon class="d" points="748.8,4690.8 787.2,4709.2 748.8,4727.6 709.7,4709.2"/><text class="t c" x="748.8" y="4713.5">ct = 0 ?</text></g>
<g id="b_v4"><rect class="b" x="448.5" y="4767" width="322.9" height="32.2"/><text class="t" x="452.2" y="4781">dbms_output.put_line('iddtobl icin vergi no bulunamadi');</text><text class="t" x="452.2" y="4794.5">AddToErrList('VINTERR113');</text></g>
<g id="r1_v4"><polygon class="d" points="1096.5,4501 1137.9,4519.5 1096.5,4538 1055.8,4519.5"/><text class="t c" x="1096.5" y="4523.8">ct != 0 ?</text></g>
<g id="re_v4"><rect class="b" x="1025" y="4578.6" width="141.5" height="58.8"/><text class="t" x="1028.7" y="4593">select count(*) into ct</text><text class="t" x="1028.7" y="4606.3">from eis,vint where ivint</text><text class="t" x="1028.7" y="4619.6">= ddtrec.iddtobl and</text><text class="t" x="1028.7" y="4632.9">lvintimm = ieisimm;</text></g>
<g id="r2_v4"><polygon class="d" points="1096.5,4690.8 1136.4,4709.2 1096.5,4727.6 1057.3,4709.2"/><text class="t c" x="1096.5" y="4713.5">ct = 0 ?</text></g>
<g id="rb_v4"><rect class="b" x="812" y="4767" width="322.9" height="32.2"/><text class="t" x="815.7" y="4781">dbms_output.put_line('iddtobl icin vergi no bulunamadi');</text><text class="t" x="815.7" y="4794.5">AddToErrList('VINTERR113');</text></g>
<g id="note_fin"><text class="nt" x="1195" y="4786">IDDTFIN</text></g>

<g id="d_v5"><polygon class="d" points="974.6,4823.7 1052,4842.5 974.6,4861.4 894,4842.5"/><text class="t c" x="974.6" y="4847">ind_lddtv5 = 'O' ?</text></g>
<g id="sy_v5"><rect class="b" x="833" y="4901.5" width="171.7" height="57.5"/><text class="t" x="836.7" y="4916">select count(*) into ct</text><text class="t" x="836.7" y="4929.3">from vint where ivint =</text><text class="t" x="836.7" y="4942.6">ddtrec.iddtfin and cvinttypimm</text><text class="t" x="836.7" y="4955.9">= 'VERGÝNO';</text></g>
<g id="sn_v5"><rect class="b" x="1035.5" y="4901.5" width="177" height="57.5"/><text class="t" x="1039.2" y="4916">select count(*) into ct</text><text class="t" x="1039.2" y="4929.3">from vint where ivint =</text><text class="t" x="1039.2" y="4942.6">ddtrec.iddtfin and cvinttypimm</text><text class="t" x="1039.2" y="4955.9">= 'VERGÝNO';</text></g>
<g id="c1_v5"><polygon class="d" points="905.3,4983.2 944.5,5002.1 905.3,5021 867,5002.1"/><text class="t c" x="905.3" y="5006.4">ct = 0 ?</text></g>
<g id="e_v5"><rect class="b" x="835.3" y="5061" width="140.7" height="58.3"/><text class="t" x="839" y="5075.4">select count(*) into ct</text><text class="t" x="839" y="5088.7">from eis,vint where ivint</text><text class="t" x="839" y="5102">= ddtrec.iddtfin and</text><text class="t" x="839" y="5115.3">lvintimm = ieisimm;</text></g>
<g id="z_v5"><rect class="b" x="625.4" y="5130.2" width="270.1" height="31.8"/><text class="t" x="629" y="5144.2">dbms_output.put_line('iddtfin vergi no zorunlu');</text><text class="t" x="629" y="5157.7">AddToErrList('VINTERR109');</text></g>
<g id="c2_v5"><polygon class="d" points="905.3,5173.8 944.5,5192.3 905.3,5210.8 867,5192.3"/><text class="t c" x="905.3" y="5196.6">ct = 0 ?</text></g>
<g id="b_v5"><rect class="b" x="803.7" y="5250.8" width="317.6" height="31.9"/><text class="t" x="807.4" y="5264.8">dbms_output.put_line('iddtfin icin vergi no bulunamadi');</text><text class="t" x="807.4" y="5278.3">AddToErrList('VINTERR114');</text></g>
<g id="r1_v5"><polygon class="d" points="1131,4983.2 1172.5,5002.1 1131,5021 1089,5002.1"/><text class="t c" x="1131" y="5006.4">ct != 0 ?</text></g>
<g id="re_v5"><rect class="b" x="1140" y="5061" width="141" height="58.3"/><text class="t" x="1143.7" y="5075.4">select count(*) into ct</text><text class="t" x="1143.7" y="5088.7">from eis,vint where ivint</text><text class="t" x="1143.7" y="5102">= ddtrec.iddtfin and</text><text class="t" x="1143.7" y="5115.3">lvintimm = ieisimm;</text></g>
<g id="r2_v5"><polygon class="d" points="1211,5173.8 1250,5192.3 1211,5210.8 1172.5,5192.3"/><text class="t c" x="1211" y="5196.6">ct = 0 ?</text></g>
<g id="rb_v5"><rect class="b" x="1176.2" y="5250.8" width="318" height="31.9"/><text class="t" x="1180" y="5264.8">dbms_output.put_line('iddtfin icin vergi no bulunamadi');</text><text class="t" x="1180" y="5278.3">AddToErrList('VINTERR114');</text></g>
<g id="grant"><rect class="b" x="1039.3" y="5306.8" width="183.4" height="44"/><text class="t" x="1043" y="5320.5">GRANT EXECUTE ON</text><text class="t" x="1043" y="5334">OSOFIX.FEDI_CTRL_VINTS TO</text><text class="t" x="1043" y="5347.3">ROL_OSFX_DB_APP;</text></g>
<g id="note_grant"><text class="nt" x="1480" y="5200">dbms_output.put_line(</text><text class="nt" x="1480" y="5214">ErrList);</text></g>
<g id="end1"><rect class="er" x="1115.5" y="5386" width="32" height="24"/><polygon class="ed" points="1131.5,5386 1147.5,5398 1131.5,5410 1115.5,5398"/><text class="t c" x="1131.5" y="5402.3">End</text></g>

<g id="addtoerr"><ellipse class="d" cx="910.5" cy="75.5" rx="85.5" ry="21"/><text class="t c" x="910.5" y="73.5">procedure AddToErrList(istr</text><text class="t c" x="910.5" y="86.5">varchar2)</text></g>
<g id="if_null"><polygon class="d" points="910.7,123 981.7,141 910.7,159 839,141"/><text class="t c" x="910.5" y="145.3">ErrList is null ?</text></g>
<g id="set1"><rect class="b" x="822" y="206" width="80" height="19"/><text class="t" x="826" y="219.8">ErrList := istr;</text></g>
<g id="set2"><rect class="b" x="907.3" y="199.5" width="102" height="31.5"/><text class="t" x="911" y="213.5">ErrList := ErrList</text><text class="t" x="911" y="227">|| '|' || istr;</text></g>
<g id="end2"><rect class="er" x="903.3" y="255.5" width="32" height="32"/><polygon class="ed" points="919.3,255.5 935.3,271.5 919.3,287.5 903.3,271.5"/><text class="t c" x="919.3" y="275.8">End</text></g>

<g id="gettype"><ellipse class="d" cx="1131.5" cy="85.5" rx="83.5" ry="31"/><text class="t c" x="1131.5" y="76.5" xml:space="preserve">function gettype(t  integer,</text><text class="t c" x="1131.5" y="89.5" xml:space="preserve">ct varchar2, ctp  varchar2)</text><text class="t c" x="1131.5" y="103.5">return varchar2</text></g>
<g id="ret_decl"><rect class="b" x="1086.7" y="142" width="90.6" height="18"/><text class="t" x="1090.5" y="155.5">ret varchar2(3);</text></g>
<g id="t1"><polygon class="d" points="1131.7,185 1167.7,203 1131.7,221 1095,203"/><text class="t c" x="1131.7" y="207.3">t = 1 ?</text></g>
<g id="t2"><polygon class="d" points="1171,262 1207.7,280 1171,299 1135,280"/><text class="t c" x="1171" y="284.5">t = 2 ?</text></g>
<g id="t3"><polygon class="d" points="1250,366 1286.7,384 1250,403 1214,384"/><text class="t c" x="1250" y="388.5">t = 3 ?</text></g>
<g id="t5"><polygon class="d" points="1310,469 1347.7,488 1310,507 1275,488"/><text class="t c" x="1310" y="492.3">t = 5 ?</text></g>
<g id="t6"><polygon class="d" points="1357.7,573 1394.3,592 1357.7,610 1321.7,592"/><text class="t c" x="1357.7" y="596">t = 6 ?</text></g>
<g id="c1"><rect class="b" x="1022.7" y="309.3" width="139" height="46.3"/><text class="t" x="1026" y="324">select c1 into ret from</text><text class="t" x="1026" y="337">cwn where catt = ct and</text><text class="t" x="1026" y="350">catttyp = ctp;</text></g>
<g id="c2"><rect class="b" x="1101.3" y="413.3" width="138" height="46.3"/><text class="t" x="1104.7" y="428">select c2 into ret from</text><text class="t" x="1104.7" y="441">cwn where catt = ct and</text><text class="t" x="1104.7" y="454">catttyp = ctp;</text></g>
<g id="c3"><rect class="b" x="1162.3" y="517.5" width="139.4" height="45.5"/><text class="t" x="1165.7" y="531.8">select c3 into ret from</text><text class="t" x="1165.7" y="544.8">cwn where catt = ct and</text><text class="t" x="1165.7" y="557.8">catttyp = ctp;</text></g>
<g id="c5"><rect class="b" x="1191.7" y="621.5" width="139" height="45.5"/><text class="t" x="1195" y="635.6">select c5 into ret from</text><text class="t" x="1195" y="648.8">cwn where catt = ct and</text><text class="t" x="1195" y="662">catttyp = ctp;</text></g>
<g id="c6"><rect class="b" x="1233.3" y="677.2" width="138.4" height="46.5"/><text class="t" x="1236.7" y="691.6">select c6 into ret from</text><text class="t" x="1236.7" y="705">cwn where catt = ct and</text><text class="t" x="1236.7" y="718.2">catttyp = ctp;</text></g>
<g id="note_ret"><text class="nt" x="1416.7" y="697.8">dbms_output.put_line('ret</text><text class="nt" x="1416.7" y="711.2">is :' || ret);</text></g>
<g id="ret"><rect class="b" x="1193.3" y="747.3" width="61" height="17.9"/><text class="t" x="1197.5" y="760.5">return ret;</text></g>
<g id="end3"><rect class="er" x="1207.3" y="789.3" width="32" height="31.7"/><polygon class="ed" points="1223.3,789.3 1239.3,805.2 1223.3,821 1207.3,805.2"/><text class="t c" x="1223.3" y="809.5">End</text></g>
</svg>
